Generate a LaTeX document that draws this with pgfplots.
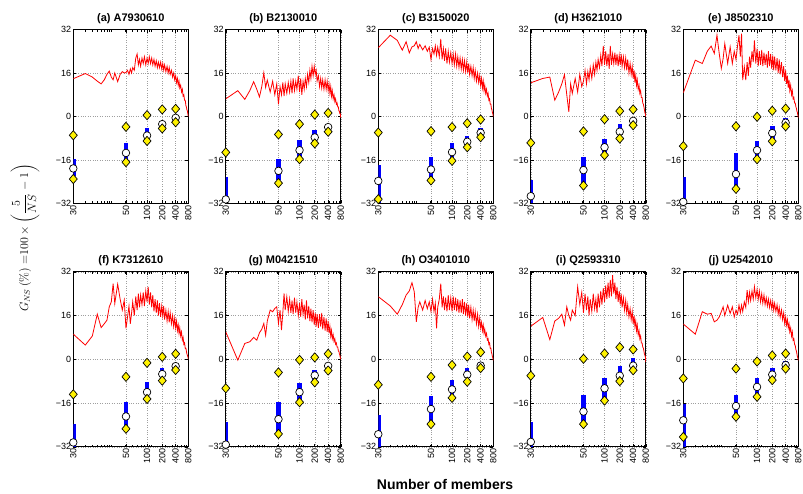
\documentclass[border=0pt]{standalone}
\usepackage{amsmath}
\usepackage[no-math]{fontspec}
\setmainfont{Liberation Sans}
\usepackage{pgfplots}
\usepackage{pgfplotstable}
\pgfplotsset{compat=1.18}

\pgfplotstableread{
N a b c d e f g h i j
30 13.9 6.5 25.3 12.4 8.7 9.2 10 22.9 12.1 12.9
31 15.8 9.5 29.9 14 20.7 5.2 -0.3 19.5 15.3 9.2
32 14.5 6.3 28 14.5 19.5 8.5 5.8 16.5 7.2 17.4
33 13 9.5 24.4 6 24 16.5 6.4 20 14 16.5
34 12.0 12.8 27.5 9 25.9 11.6 8 23.5 15 16.8
35 13.5 10 23.4 12 23.2 13 7 25 16.5 13.7
36 15.5 7.2 25.6 15.4 29.9 14.3 9.7 28 12.5 14.3
37 16.7 11 26 8 23 19.2 11 24.7 19.2 15.5
38 14.5 16.1 27.5 1.7 17.7 21 13.1 13.7 16 17.4
39 13.5 10.7 25 12 21.3 27.7 8.8 19 14.3 19.2
40 16.0 13.4 26.5 8.5 26.8 20.4 14 21 18 16
42 12.8 9 24.5 14 19.5 27.5 18 18 16 19.8
44 15.5 13 26 9 25.6 22 17.4 21.5 26.5 16.8
46 16.5 8 24 15.5 19.5 18 18.6 18.5 20 19.2
48 16.0 12 25.5 11 24 21.6 19.2 21 24.5 15.5
50 16.2 4.5 21 13 21 11.3 13.1 17.5 17 18
52 17 11 25 17 26 15.5 18 22 24 16.5
54 15.5 8 23 12 29.9 19.5 10.7 17.5 18 19.8
56 17.5 12.5 26 16.5 22 13 17 20.5 23 17
58 16 7.5 22.5 13.5 30.5 16.8 24.1 11.3 16 19.8
60 18 12 25.5 18 13.4 21 18 19 22 17.5
63 17 8.5 22 14 18.3 16 22.9 22 17.5 21
66 21.5 12.5 28.5 19 13.4 23 17.5 27.7 24 19
69 23 9 21 15.5 20 18 22 19 18.5 25.3
72 19 13 25 20 15 24 17 23 22 21
75 21 8.5 20.5 17 22 19 21.5 18 17 24.5
78 18.5 14 25 21 18 23.5 16.5 22.5 24 21.5
82 21.5 9.5 19.5 18 24 20 22.5 17.5 19 25
86 19.5 13 24 22.5 20 24.5 17 23.5 25 22
90 22 10 20 18.5 28 19.5 21 18 20 26.5
95 19 15 23.5 26 19.5 25 16 22.5 26 22.5
100 21.5 9 19.5 19 25 21 20.5 17.5 21 25.5
105 19.5 14 23 24 18.5 26.5 15.5 23 27 22
110 22 8 19 18.5 24 20 22 18 22 25
116 19.5 13 23 23 19 24.5 16.5 22.5 28 21
122 21.5 10 18.5 17.5 24.5 19 20 17.5 22.5 24
128 19 14 22 26 18.5 23.5 14.5 22 29 20.5
135 21 11 18 19 23.5 17.5 21.5 17 23 23.5
142 18.5 15.5 21.5 23 19 22 15 21.5 30.8 20
150 20.5 12.5 17.5 19.5 23 17 19.5 17 24 22.5
158 18 17 21 23.5 18 21.5 14 22 28 19.5
166 20 14 17 19 24 16 18.5 16.5 22 22
175 18 18.5 20.5 23 18.5 20.5 13.5 21 26.5 19
185 20 15 16.5 18.5 23 15.5 18 16 21 21.5
195 17.5 18.5 20 22.5 17.5 19.5 12.5 20.5 25 18.5
205 19.5 15.5 16 19 22.5 16 17 15.5 20 21
215 17 17 19.5 23 17 19.5 12 20 24 18
225 19 13 15.5 18.5 22 14.5 16.5 15 19 20.5
240 16.5 15 18.5 22 17 18 11.5 19 22.5 17.5
255 18.5 11 15 18 21.5 14 16.5 14.5 18 20
270 16 14 18 21.5 16 17.5 12 18 21.5 16.5
285 18 10.5 14 17 21 13.5 17 14 17 19
300 15.5 13.5 17 21 15.5 17 11 17.5 20 15.5
320 17 10 13 16 20 13 15.5 13 15.5 18
340 14.5 13.5 16 19.5 14.5 16 10.5 16.5 18.5 14.5
360 16 10 12.5 15.5 18.5 12 15 12 14.5 17
380 13.5 13 15 18.5 13 15 10 15 17.5 13
400 15 9.5 11.5 14 17 11.5 14 11.5 13 15.5
420 12.5 12 14 17 12 14 9.5 13.5 16 12.5
440 14 8.5 10.5 12.5 15 10.5 12 10.5 12 14.5
460 11.5 11 13 15 10.5 12.5 8.5 12.5 14 11.5
480 13 7.5 9.5 11.5 13.5 9.5 10.5 9.5 10.5 13
500 10.5 9.5 11.5 13.5 9.5 11.5 7.5 11 12.5 10
525 11.5 6.5 8.5 10 11.5 8.5 9 8.5 9 11.5
550 9 8 10 11.5 8 10 6.5 9.5 10.5 8.5
575 10 5.5 7.5 8.5 9.5 7 7.5 7 7.5 10
600 7.5 6.5 8.5 9.5 6.5 8 5.5 7.5 8.5 7
625 8 4.5 6 7 7 5.5 6 5.5 6 7.5
650 6 5 6.5 7 5 6 4.5 6 6 5.5
675 6 3.5 4.5 5 5 4 4.5 4 4.5 5
700 4 3.5 4.5 4.5 3.5 4 3 4 4 3.5
720 3.5 2 3 3.5 3 3 3 2.5 3 3
740 2.5 2 2.5 2.5 2 2 2 2 2 2
760 2 1 1.5 1.5 1.5 1.5 1.5 1 1.5 1
780 1 1 1 1 0.5 1 0.5 0.5 1 0.5
800 0 -0.5 0 0 -0.5 0 0 -0.5 -1 -0.5
}\redtab

\pgfplotstableread{
N lo hi med up dn
30 -22 -15.5 -19.1 -6.9 -23.0
50 -16 -9.9 -13.4 -3.8 -16.8
100 -8 -4.4 -7.0 0.5 -9.0
200 -3.8 -1.6 -2.8 2.6 -4.4
400 -1.4 0.3 -0.5 2.8 -2.1
}\mka
\pgfplotstableread{
N lo hi med up dn
30 -32 -22.4 -30.5 -13.2 nan
50 -23.4 -15.5 -20.0 -6.6 -24.5
100 -14.8 -8.7 -12.4 -2.8 -15.7
200 -8.7 -5 -7.7 0.7 -9.9
400 -4.8 -2.8 -3.9 1.3 -5.6
}\mkb
\pgfplotstableread{
N lo hi med up dn
30 -32 -17.7 -23.7 -5.9 -30.4
50 -22.8 -14.8 -19.5 -5.4 -23.5
100 -15.5 -9.9 -13.1 -3.9 -16.3
200 -10.5 -7.2 -9.3 -2.5 -11.3
400 -6.9 -4.3 -6.0 -1.1 -7.6
}\mkc
\pgfplotstableread{
N lo hi med up dn
30 -32 -23.4 -29.3 -9.7 nan
50 -24.4 -14.8 -19.7 -5.5 -25.4
100 -13.6 -8.1 -11.3 -1.0 -14.2
200 -6.9 -2.6 -5.6 2.0 -8.1
400 -3 -0.7 -1.6 2.6 -3.2
}\mkd
\pgfplotstableread{
N lo hi med up dn
30 -32 -22.4 -31.4 -10.9 nan
50 -25.9 -13.6 -21.2 -3.6 -26.6
100 -14.8 -9 -12.4 -0.1 -15.7
200 -8.1 -3.4 -6.1 2.1 -9.1
400 -2.5 -0.5 -2.3 2.9 -3.6
}\mke
\pgfplotstableread{
N lo hi med up dn
30 -32 -23.7 -30.4 -12.8 nan
50 -24.7 -15.6 -20.9 -6.4 -25.4
100 -13.7 -8.2 -12.0 -1.3 -14.5
200 -7 -3.1 -5.4 0.9 -7.8
400 -3.4 -1.2 -2.5 2.0 -3.9
}\mkf
\pgfplotstableread{
N lo hi med up dn
30 -32 -22.8 -31.2 -10.6 nan
50 -26.5 -15.6 -21.9 -4.8 -27.3
100 -15 -8.6 -12.0 -0.2 -15.7
200 -7.6 -4 -5.9 0.7 -8.4
400 -3.4 -1.5 -2.4 2.0 -4.1
}\mkg
\pgfplotstableread{
N lo hi med up dn
30 -32 -20.4 -27.4 -9.3 nan
50 -22.9 -13.4 -18.2 -6.4 -23.7
100 -13.1 -7.6 -11.0 -2.1 -14.1
200 -7 -3.1 -5.6 1.0 -8.2
400 -2.8 -0.9 -2.3 2.6 -3.2
}\mkh
\pgfplotstableread{
N lo hi med up dn
30 -32 -22.9 -30.2 -6.0 nan
50 -22.9 -13.1 -19.1 0.2 -23.7
100 -14.3 -6.8 -10.6 2.1 -15.1
200 -7 -2.3 -6.0 4.4 -8.0
400 -2.8 0.3 -2.3 3.6 -4.0
}\mki
\pgfplotstableread{
N lo hi med up dn
30 -32 -16.2 -22.3 -7.0 -28.4
50 -20.2 -13.1 -17.1 -3.4 -21.0
100 -13.1 -7 -10.1 -0.8 -13.7
200 -7 -3.1 -5.6 1.4 -7.6
400 -2.8 -0.6 -2.1 2.1 -3.4
}\mkj

\pgfplotsset{
  mypanel/.style={
    scale only axis, width=115pt, anchor=north west,
    xmin=1, xmax=771, ymin=-32, ymax=32,
    xtick={1,21,71,171,371,771}, xticklabels={30,50,100,200,400,800},
    minor xtick={2,3,4,5,6,7,8,9,20,30,40,50,60,70,80,90,200,300,400,500,600,700},
    ytick={-32,-16,0,16,32}, yticklabels={−32,−16,0,16,32},
    xticklabel style={rotate=90, anchor=east, font=\fontsize{9}{10}\selectfont, inner sep=1.5pt},
    yticklabel style={font=\fontsize{9}{10}\selectfont, inner sep=2pt},
    tick align=inside, major tick length=3pt, minor tick length=2pt,
    every tick/.style={black, line width=0.5pt},
    grid=major, grid style={dotted, gray!75, line width=0.45pt},
    axis line style={line width=1.1pt},
    title style={at={(0.5,1)}, anchor=base, yshift=2.5pt, font=\bfseries\fontsize{11}{13}\selectfont},
    clip mode=individual,
  },
  medmark/.style={only marks, mark=*, mark size=3.8pt, mark options={fill=white, draw=black, line width=0.7pt}},
  dmark/.style={only marks, mark=diamond*, mark size=4.6pt, mark options={fill=yellow, draw=black, line width=0.7pt, xscale=1.15}},
}

\newcommand{\panel}[6]{%
\begin{semilogxaxis}[mypanel, at={(#1pt,#2pt)}, height=#3pt, title={#4}]
\addplot[red, line width=0.8pt] table[x expr=\thisrow{N}-29, y=#5]{\redtab};
\addplot[draw=none, mark=none, error bars/.cd, y dir=plus, y explicit, error mark=none,
  error bar style={draw=blue, line width=4.5pt}]
  table[x expr=\thisrow{N}-29, y=lo, y error expr=\thisrow{hi}-\thisrow{lo}]{#6};
\addplot[medmark] table[x expr=\thisrow{N}-29, y=med]{#6};
\addplot[dmark] table[x expr=\thisrow{N}-29, y=up]{#6};
\addplot[dmark] table[x expr=\thisrow{N}-29, y=dn]{#6};
\end{semilogxaxis}}

\begin{document}
\begin{tikzpicture}
\useasboundingbox (0pt,0pt) rectangle (803pt,-493pt);
\panel{73.3}{-29.5}{174}{(a) A7930610}{a}{\mka}
\panel{225.8}{-29.5}{174}{(b) B2130010}{b}{\mkb}
\panel{378.3}{-29.5}{174}{(c) B3150020}{c}{\mkc}
\panel{530.8}{-29.5}{174}{(d) H3621010}{d}{\mkd}
\panel{683.3}{-29.5}{174}{(e) J8502310}{e}{\mke}
\panel{73.3}{-271.8}{175}{(f) K7312610}{f}{\mkf}
\panel{225.8}{-271.8}{175}{(g) M0421510}{g}{\mkg}
\panel{378.3}{-271.8}{175}{(h) O3401010}{h}{\mkh}
\panel{530.8}{-271.8}{175}{(i) Q2593310}{i}{\mki}
\panel{683.3}{-271.8}{175}{(j) U2542010}{j}{\mkj}
\node[rotate=90, font=\fontsize{12}{14}\selectfont] at (25pt,-238pt)
  {$G_{NS}\,(\%)\ {=}100\times\left(\dfrac{5}{NS}-1\right)$};
\node[anchor=base, font=\bfseries\fontsize{14}{16}\selectfont] at (445pt,-489pt) {Number of members};
\end{tikzpicture}
\end{document}
